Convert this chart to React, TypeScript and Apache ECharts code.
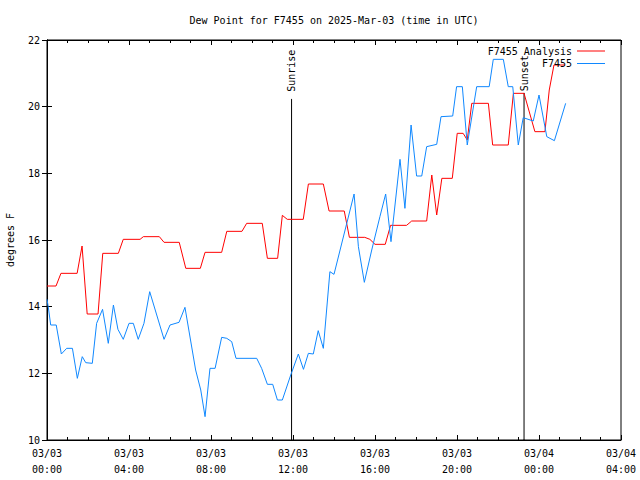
import React, { useEffect, useRef } from "react";
import * as echarts from "echarts";

// Times are hours since 2025-03-03 00:00 UTC
const analysisTimes = [0, 0.44, 0.68, 1.47, 1.71, 1.96, 2.49, 2.72, 3.48, 3.72, 4.54, 4.7, 5.48, 5.71, 6.45, 6.77, 7.48, 7.71, 8.52, 8.77, 9.51, 9.74, 10.5, 10.75, 11.25, 11.48, 11.72, 12.5, 12.75, 13.48, 13.76, 14.5, 14.75, 15.5, 15.75, 16.0, 16.5, 16.76, 17.54, 17.79, 18.52, 18.77, 19.01, 19.26, 19.77, 20.01, 20.3, 20.5, 20.72, 21.53, 21.74, 22.5, 22.75, 23.27, 23.5, 23.8, 24.29, 24.5, 24.73, 25.27];
const analysisValues = [14.62, 14.62, 15.0, 15.0, 15.82, 13.78, 13.78, 15.6, 15.6, 16.02, 16.02, 16.1, 16.1, 15.93, 15.93, 15.15, 15.15, 15.63, 15.63, 16.26, 16.26, 16.5, 16.5, 15.45, 15.45, 16.74, 16.62, 16.62, 17.68, 17.68, 16.87, 16.87, 16.08, 16.08, 16.02, 15.87, 15.87, 16.44, 16.44, 16.57, 16.57, 17.95, 16.75, 17.85, 17.85, 19.2, 19.2, 19.0, 20.1, 20.1, 18.85, 18.85, 20.4, 20.4, 19.9, 19.25, 19.25, 20.5, 21.25, 21.25];

const obsTimes = [0, 0.06, 0.18, 0.45, 0.7, 0.96, 1.24, 1.48, 1.72, 1.89, 2.21, 2.42, 2.71, 2.99, 3.24, 3.46, 3.72, 4.0, 4.21, 4.45, 4.73, 5.01, 5.71, 6.0, 6.44, 6.73, 7.25, 7.5, 7.71, 7.95, 8.2, 8.52, 8.77, 9.01, 9.22, 10.23, 10.47, 10.75, 11.01, 11.24, 11.48, 11.89, 12.26, 12.51, 12.75, 12.99, 13.23, 13.48, 13.8, 14.0, 14.98, 15.19, 15.48, 15.84, 16.24, 16.52, 16.78, 17.22, 17.46, 17.76, 18.03, 18.28, 18.52, 19.01, 19.22, 19.79, 19.98, 20.26, 20.5, 20.96, 21.57, 21.77, 22.26, 22.5, 22.72, 22.99, 23.23, 23.72, 24.0, 24.38, 24.75, 25.3];
const obsValues = [14.22, 14.0, 13.45, 13.45, 12.58, 12.75, 12.75, 11.85, 12.5, 12.32, 12.3, 13.5, 13.92, 12.9, 14.05, 13.32, 13.02, 13.5, 13.5, 13.02, 13.5, 14.45, 13.02, 13.45, 13.53, 13.98, 12.1, 11.5, 10.7, 12.15, 12.15, 13.08, 13.05, 12.95, 12.45, 12.45, 12.15, 11.67, 11.67, 11.2, 11.2, 11.95, 12.58, 12.12, 12.6, 12.58, 13.28, 12.75, 15.05, 14.97, 17.38, 15.8, 14.73, 15.7, 16.7, 17.38, 15.95, 18.42, 16.95, 19.45, 17.92, 17.92, 18.8, 18.87, 19.7, 19.72, 20.6, 20.6, 18.85, 20.6, 20.6, 21.42, 21.42, 20.6, 20.6, 18.85, 19.67, 19.57, 20.35, 19.1, 18.98, 20.1];

const sunEvents = ["Sunrise", "Sunset"];
const sunTimes = [11.93, 23.27];
const sunLineTops = [20.22, 20.4];
const sunLabelGaps = [7, 1.5];

const xTicks = [0, 4, 8, 12, 16, 20, 24, 28];
const yTicks = [10, 12, 14, 16, 18, 20, 22];

const BASE = Date.UTC(2025, 2, 3);
const pad = (n: number) => String(n).padStart(2, "0");
function fmtHour(h: number) {
  const d = new Date(BASE + Math.round(h * 3600000));
  return `${pad(d.getUTCMonth() + 1)}/${pad(d.getUTCDate())}\n${pad(d.getUTCHours())}:${pad(d.getUTCMinutes())}`;
}

const FONT = "DejaVu Sans Mono";
const BLUE = "#1088ff";
const RED = "#ff0000";

export default function App() {
  const ref = useRef<HTMLDivElement>(null);
  useEffect(() => {
    const chart = echarts.init(ref.current!, null, { renderer: "svg" });
    const xMin = xTicks[0];
    const xMax = xTicks[xTicks.length - 1];
    const xInt = xTicks[1] - xTicks[0];
    const yMin = yTicks[0];
    const yMax = yTicks[yTicks.length - 1];
    const yInt = yTicks[1] - yTicks[0];
    const axisCommon = {
      axisLine: { show: true, lineStyle: { color: "#000", width: 1 } },
      splitLine: { show: false },
    };
    const sunSeries = sunEvents.map((name, i) => ({
      name,
      type: "line",
      silent: true,
      symbol: "circle",
      symbolSize: 1,
      showSymbol: true,
      color: "#000",
      itemStyle: { color: "#000" },
      lineStyle: { color: "#000", width: 1 },
      z: 1,
      data: [
        [sunTimes[i], yMin],
        {
          value: [sunTimes[i], sunLineTops[i]],
          label: {
            show: true,
            formatter: name,
            position: "top",
            distance: sunLabelGaps[i],
            rotate: 90,
            align: "left",
            verticalAlign: "middle",
            fontFamily: FONT,
            fontSize: 10,
            color: "#000",
          },
        },
      ],
    }));
    chart.setOption({
      animation: false,
      backgroundColor: "#fff",
      textStyle: { fontFamily: FONT, fontSize: 10, color: "#000" },
      title: {
        text: "Dew Point for F7455 on 2025-Mar-03 (time in UTC)",
        left: 329,
        textAlign: "center",
        top: 10,
        textStyle: { fontFamily: FONT, fontSize: 10, fontWeight: "normal", color: "#000" },
      },
      grid: {
        left: 47,
        right: 19,
        top: 40,
        bottom: 40,
        containLabel: false,
        outerBoundsMode: "none",
        show: true,
        borderColor: "#000",
        borderWidth: 1,
        backgroundColor: "transparent",
      },
      legend: {
        data: ["F7455 Analysis", "F7455"],
        orient: "vertical",
        right: 30,
        top: 40,
        align: "right",
        icon: "rect",
        itemWidth: 28,
        itemHeight: 1,
        itemGap: 0.5,
        textStyle: { fontFamily: FONT, fontSize: 10, color: "#000", width: 86, align: "right", lineHeight: 12 },
      },
      xAxis: [
        {
          ...axisCommon,
          type: "value",
          position: "bottom",
          min: xMin,
          max: xMax,
          interval: xInt,
          axisTick: { show: true, inside: true, length: 5, lineStyle: { color: "#000" } },
          minorTick: { show: true, splitNumber: 4, length: 3, lineStyle: { color: "#000" } },
          minorSplitLine: { show: false },
          axisLabel: {
            formatter: (v: number) => fmtHour(v),
            fontFamily: FONT,
            fontSize: 10,
            color: "#000",
            lineHeight: 16,
            margin: 5,
            showMinLabel: true,
            showMaxLabel: true,
          },
        },
        {
          ...axisCommon,
          type: "value",
          position: "top",
          min: xMin,
          max: xMax,
          interval: xInt,
          axisTick: { show: true, inside: true, length: 5, lineStyle: { color: "#000" } },
          minorTick: { show: true, splitNumber: 4, length: 3, lineStyle: { color: "#000" } },
          axisLabel: { show: false },
        },
      ],
      yAxis: [
        {
          ...axisCommon,
          type: "value",
          position: "left",
          min: yMin,
          max: yMax,
          interval: yInt,
          name: "degrees F",
          nameLocation: "middle",
          nameGap: 32,
          nameRotate: 90,
          nameTextStyle: { fontFamily: FONT, fontSize: 10, color: "#000" },
          axisTick: { show: true, inside: true, length: 5, lineStyle: { color: "#000" } },
          axisLabel: { fontFamily: FONT, fontSize: 10, color: "#000", margin: 7 },
        },
        {
          ...axisCommon,
          type: "value",
          position: "right",
          min: yMin,
          max: yMax,
          interval: yInt,
          axisTick: { show: true, inside: true, length: 5, lineStyle: { color: "#000" } },
          axisLabel: { show: false },
        },
      ],
      series: [
        {
          name: "F7455 Analysis",
          type: "line",
          symbol: "none",
          color: RED,
          itemStyle: { color: RED },
          lineStyle: { color: RED, width: 1 },
          z: 2,
          data: analysisTimes.map((t, i) => [t, analysisValues[i]]),
        },
        {
          name: "F7455",
          type: "line",
          symbol: "none",
          color: BLUE,
          itemStyle: { color: BLUE },
          lineStyle: { color: BLUE, width: 1 },
          z: 3,
          data: obsTimes.map((t, i) => [t, obsValues[i]]),
        },
        ...sunSeries,
      ],
    });
    return () => chart.dispose();
  }, []);
  return (
    <div
      ref={ref}
      style={{ position: "fixed", left: 0, top: 0, width: 640, height: 480, background: "#fff" }}
    />
  );
}
